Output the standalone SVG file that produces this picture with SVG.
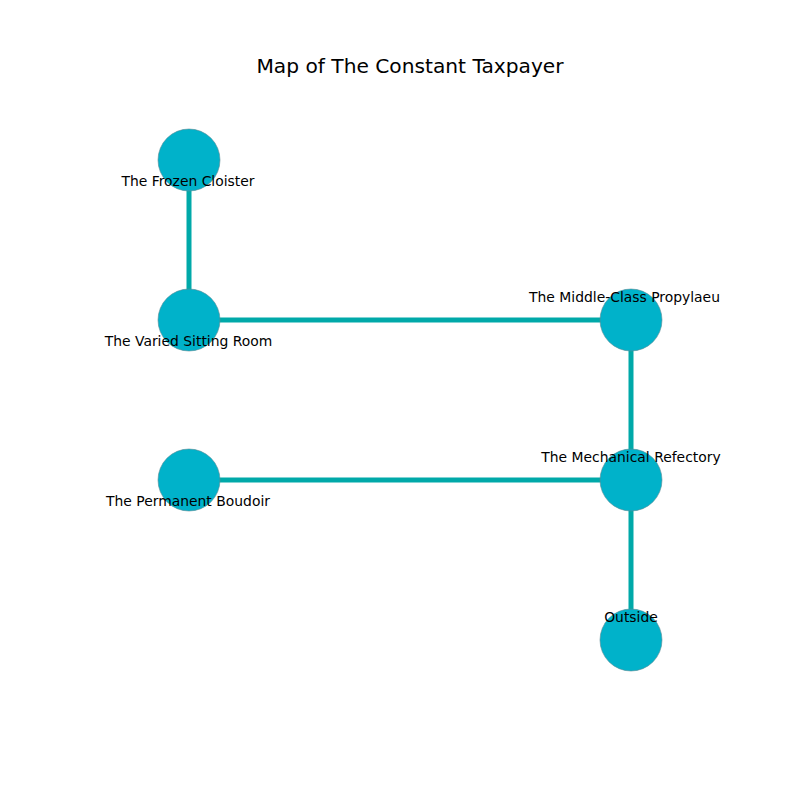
<svg xmlns="http://www.w3.org/2000/svg" width="800" height="800" viewBox="0 0 800 800">
<style>
.edge{stroke:#00a9a9;stroke-width:5;fill:none}
.node circle{fill:#00b2ca;stroke:#5a8a94;stroke-width:0.6}
.label{font-family:"DejaVu Sans",sans-serif;font-size:13.9px;fill:#000;text-anchor:middle}
.title{font-family:"DejaVu Sans",sans-serif;font-size:20.2px;fill:#000;text-anchor:middle}
</style>
<rect width="800" height="800" fill="#fff"/>
<text class="title" x="410" y="73">Map of The Constant Taxpayer</text>
<g id="connectors">
<line class="edge" x1="189" y1="160" x2="189" y2="320"/>
<line class="edge" x1="189" y1="320" x2="631" y2="320"/>
<line class="edge" x1="631" y1="320" x2="631" y2="480"/>
<line class="edge" x1="189" y1="480" x2="631" y2="480"/>
<line class="edge" x1="631" y1="480" x2="631" y2="640"/>
</g>
<g id="frozen-cloister" class="node"><circle cx="189" cy="160" r="31"/><text class="label" x="188" y="186">The Frozen Cloister</text></g>
<g id="varied-sitting-room" class="node"><circle cx="189" cy="320" r="31"/><text class="label" x="188.5" y="346">The Varied Sitting Room</text></g>
<g id="middle-class-propylaeu" class="node"><circle cx="631" cy="320" r="31"/><text class="label" x="624.5" y="302">The Middle-Class Propylaeu</text></g>
<g id="permanent-boudoir" class="node"><circle cx="189" cy="480" r="31"/><text class="label" x="188" y="506">The Permanent Boudoir</text></g>
<g id="mechanical-refectory" class="node"><circle cx="631" cy="480" r="31"/><text class="label" x="631" y="462">The Mechanical Refectory</text></g>
<g id="outside" class="node"><circle cx="631" cy="640" r="31"/><text class="label" x="631" y="622">Outside</text></g>
</svg>
